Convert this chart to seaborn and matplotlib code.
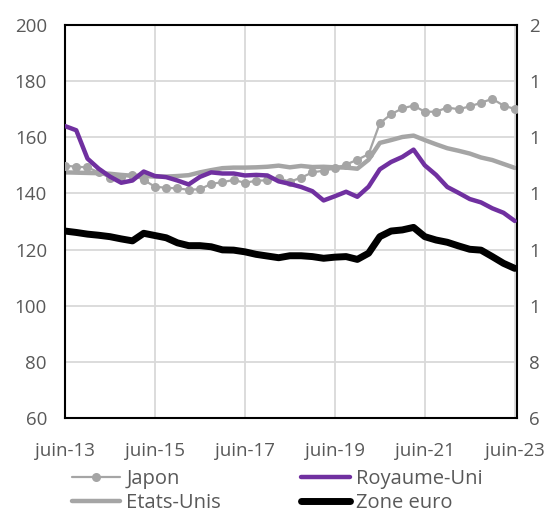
import matplotlib
matplotlib.use("Agg")
import matplotlib.pyplot as plt
import seaborn as sns
import pandas as pd

# Quarterly data, June 2013 -> June 2023
quarters = list(range(41))
tick_pos = [0, 8, 16, 24, 32, 40]
tick_labels = ["juin-13", "juin-15", "juin-17", "juin-19", "juin-21", "juin-23"]
y_ticks = [60, 80, 100, 120, 140, 160, 180, 200]
# right axis labels, only their first digit is visible in the original
right_labels = ["6", "8", "1", "1", "1", "1", "1", "2"]

japon = [149.9, 149.5, 149.3, 147.5, 145.6, 146.0, 146.6, 144.8, 142.4, 142.0,
         141.8, 141.3, 141.5, 143.4, 144.0, 144.8, 143.8, 144.5, 144.7, 145.4,
         144.2, 145.6, 147.5, 148.1, 148.9, 150.3, 152.0, 154.0, 165.0, 168.2,
         170.3, 171.3, 169.1, 169.1, 170.6, 170.0, 171.0, 172.3, 173.7, 171.3,
         170.1]
royaume_uni = [164.0, 162.5, 152.4, 148.8, 146.0, 143.8, 144.6, 147.8, 146.2, 145.8,
               144.6, 143.2, 145.9, 147.5, 147.1, 147.1, 146.4, 146.6, 146.4, 144.3,
               143.4, 142.3, 140.8, 137.5, 139.0, 140.6, 138.8, 142.4, 148.6, 151.2,
               153.0, 155.6, 150.0, 146.6, 142.3, 140.2, 138.0, 136.8, 134.7, 133.1,
               130.2]
etats_unis = [147.5, 147.4, 147.3, 147.2, 147.0, 146.6, 146.3, 146.2, 146.0, 146.0,
              146.2, 146.5, 147.5, 148.3, 149.0, 149.2, 149.2, 149.3, 149.5, 149.9,
              149.3, 149.8, 149.4, 149.5, 149.3, 149.2, 148.8, 152.0, 158.0, 159.0,
              160.1, 160.6, 159.0, 157.5, 156.1, 155.2, 154.2, 152.8, 151.9, 150.5,
              149.1]
zone_euro = [126.6, 126.1, 125.5, 125.1, 124.6, 123.8, 123.1, 125.8, 125.0, 124.2,
             122.4, 121.4, 121.4, 121.0, 119.9, 119.8, 119.2, 118.3, 117.7, 117.1,
             117.8, 117.8, 117.5, 116.9, 117.3, 117.5, 116.5, 118.7, 124.6, 126.6,
             127.0, 127.9, 124.6, 123.4, 122.6, 121.3, 120.1, 119.8, 117.5, 115.1,
             113.3]

df = pd.DataFrame({"q": quarters, "Japon": japon, "Royaume-Uni": royaume_uni,
                   "Etats-Unis": etats_unis, "Zone euro": zone_euro})

sns.set_style("white")
plt.rcParams["font.family"] = ["Open Sans", "DejaVu Sans"]

fig = plt.figure(figsize=(5.51, 5.13), dpi=100)
ax = fig.add_axes([65 / 551, 1 - 418 / 513, (517 - 65) / 551, (418 - 25) / 513])

sns.lineplot(data=df, x="q", y="Japon", ax=ax, color="#a5a5a5", linewidth=1.6,
             marker="o", markersize=6.5, markeredgewidth=0, label="Japon", zorder=3)
sns.lineplot(data=df, x="q", y="Royaume-Uni", ax=ax, color="#7030a0", linewidth=3.2,
             label="Royaume-Uni", zorder=4)
sns.lineplot(data=df, x="q", y="Etats-Unis", ax=ax, color="#a5a5a5", linewidth=3.2,
             label="Etats-Unis", zorder=2)
sns.lineplot(data=df, x="q", y="Zone euro", ax=ax, color="#000000", linewidth=5,
             label="Zone euro", zorder=5)

ax.set_xlim(0, 40.2)
ax.set_ylim(60, 200)
ax.set_yticks(y_ticks)
ax.set_xticks(tick_pos)
ax.set_xticklabels(tick_labels)
ax.set_xlabel("")
ax.set_ylabel("")
ax.grid(True, color="#d9d9d9", linewidth=1.3)
ax.set_axisbelow(True)
for s in ax.spines.values():
    s.set_color("black")
    s.set_linewidth(1.5)
ax.tick_params(axis="both", length=0, labelsize=13.5, colors="#595959")
ax.tick_params(axis="y", pad=13)
ax.tick_params(axis="x", pad=17)

# right axis
ax2 = ax.twinx()
ax2.set_ylim(60, 200)
ax2.set_yticks(y_ticks)
ax2.set_yticklabels(right_labels)
ax2.tick_params(axis="y", length=0, labelsize=13.5, colors="#595959", pad=9)
for s in ax2.spines.values():
    s.set_visible(False)

handles, labels = ax.get_legend_handles_labels()
order = [0, 2, 1, 3]
ax.legend([handles[i] for i in order], [labels[i] for i in order],
          ncol=2, frameon=False, loc="upper left", bbox_to_anchor=(0.015, -0.13),
          fontsize=14.5, labelcolor="#595959", handlelength=2.4, handletextpad=0.3,
          columnspacing=4.0, labelspacing=0.2, borderaxespad=0, borderpad=0)

fig.savefig("out.png", dpi=100)
